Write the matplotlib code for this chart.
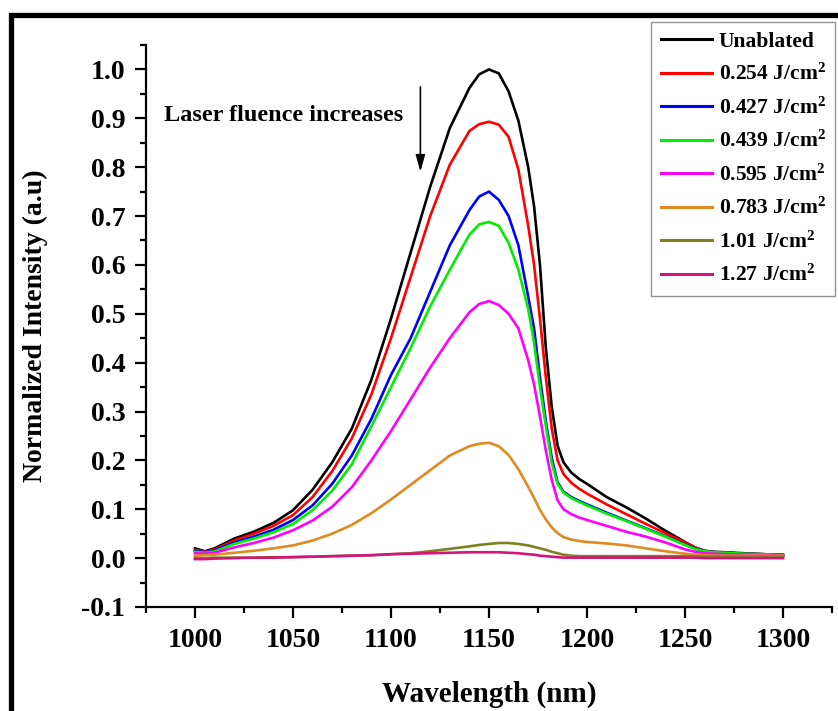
import matplotlib
matplotlib.use("Agg")
import matplotlib.pyplot as plt
from matplotlib.patches import Rectangle
from matplotlib.ticker import MultipleLocator

plt.rcParams['font.family'] = ['Liberation Serif', 'DejaVu Serif']
plt.rcParams['font.weight'] = 'bold'
plt.rcParams['mathtext.fontset'] = 'custom'
plt.rcParams['mathtext.rm'] = 'Liberation Serif:bold'
plt.rcParams['mathtext.bf'] = 'Liberation Serif:bold'
plt.rcParams['mathtext.default'] = 'bf'

wavelength = [1000, 1005, 1010, 1020, 1030, 1040, 1050, 1060, 1070, 1080, 1090,
              1100, 1110, 1120, 1130, 1140, 1145, 1150, 1155, 1160, 1165, 1170,
              1173, 1176, 1179, 1182, 1185, 1188, 1192, 1196, 1200, 1210, 1220,
              1230, 1240, 1250, 1255, 1260, 1265, 1270, 1280, 1290, 1300]

unablated = [0.020, 0.014, 0.020, 0.040, 0.054, 0.072, 0.098, 0.140, 0.196, 0.265, 0.365,
             0.490, 0.625, 0.760, 0.880, 0.962, 0.990, 1.000, 0.992, 0.955, 0.895, 0.800,
             0.720, 0.600, 0.430, 0.310, 0.230, 0.196, 0.175, 0.162, 0.152, 0.125, 0.104,
             0.081, 0.056, 0.033, 0.022, 0.015, 0.013, 0.012, 0.010, 0.008, 0.007]
f0254 = [0.017, 0.013, 0.018, 0.036, 0.050, 0.066, 0.088, 0.125, 0.178, 0.245, 0.335,
         0.450, 0.575, 0.700, 0.805, 0.874, 0.888, 0.893, 0.887, 0.862, 0.795, 0.680,
         0.600, 0.490, 0.370, 0.265, 0.200, 0.172, 0.154, 0.142, 0.132, 0.110, 0.090,
         0.070, 0.051, 0.032, 0.022, 0.015, 0.012, 0.011, 0.009, 0.008, 0.006]
f0427 = [0.015, 0.012, 0.016, 0.032, 0.044, 0.058, 0.078, 0.108, 0.152, 0.210, 0.285,
         0.375, 0.450, 0.545, 0.640, 0.712, 0.740, 0.750, 0.733, 0.700, 0.640, 0.535,
         0.470, 0.370, 0.280, 0.205, 0.155, 0.136, 0.125, 0.117, 0.110, 0.093, 0.077,
         0.061, 0.045, 0.028, 0.020, 0.014, 0.012, 0.011, 0.009, 0.008, 0.006]
f0439 = [0.013, 0.011, 0.014, 0.029, 0.040, 0.053, 0.070, 0.098, 0.138, 0.192, 0.270,
         0.350, 0.430, 0.515, 0.590, 0.662, 0.683, 0.688, 0.680, 0.645, 0.590, 0.510,
         0.440, 0.350, 0.270, 0.195, 0.152, 0.134, 0.123, 0.115, 0.108, 0.091, 0.076,
         0.060, 0.044, 0.027, 0.019, 0.014, 0.012, 0.011, 0.009, 0.008, 0.006]
f0595 = [0.010, 0.009, 0.011, 0.022, 0.031, 0.042, 0.057, 0.077, 0.105, 0.145, 0.200,
         0.260, 0.325, 0.390, 0.450, 0.503, 0.520, 0.526, 0.518, 0.500, 0.470, 0.405,
         0.355, 0.290, 0.220, 0.160, 0.118, 0.100, 0.090, 0.083, 0.078, 0.066, 0.054,
         0.044, 0.032, 0.018, 0.013, 0.010, 0.009, 0.008, 0.007, 0.006, 0.005]
f0783 = [0.005, 0.006, 0.007, 0.011, 0.015, 0.020, 0.026, 0.036, 0.050, 0.068, 0.092,
         0.120, 0.150, 0.180, 0.210, 0.229, 0.234, 0.236, 0.229, 0.211, 0.182, 0.146,
         0.123, 0.099, 0.079, 0.063, 0.051, 0.043, 0.038, 0.035, 0.033, 0.030, 0.026,
         0.020, 0.014, 0.009, 0.007, 0.006, 0.005, 0.005, 0.005, 0.005, 0.005]
f101 = [0.000, 0.000, 0.001, 0.001, 0.001, 0.002, 0.002, 0.003, 0.004, 0.005, 0.006,
        0.008, 0.010, 0.014, 0.019, 0.024, 0.027, 0.029, 0.031, 0.031, 0.029, 0.026,
        0.023, 0.020, 0.017, 0.013, 0.010, 0.007, 0.005, 0.004, 0.004, 0.004, 0.004,
        0.004, 0.004, 0.004, 0.004, 0.003, 0.003, 0.003, 0.003, 0.003, 0.003]
f127 = [-0.002, -0.002, -0.001, 0.000, 0.001, 0.001, 0.002, 0.003, 0.004, 0.005, 0.006,
        0.008, 0.009, 0.010, 0.011, 0.012, 0.012, 0.012, 0.012, 0.011, 0.010, 0.008,
        0.007, 0.005, 0.004, 0.003, 0.002, 0.001, 0.001, 0.001, 0.001, 0.001, 0.001,
        0.001, 0.001, 0.001, 0.001, 0.000, 0.000, 0.000, 0.000, 0.000, 0.000]

series = [unablated, f0254, f0427, f0439, f0595, f0783, f101, f127]
labels = ['Unablated', '0.254 J/cm$^2$', '0.427 J/cm$^2$', '0.439 J/cm$^2$',
          '0.595 J/cm$^2$', '0.783 J/cm$^2$', '1.01 J/cm$^2$', '1.27 J/cm$^2$']
colors = ['#000000', '#ff0000', '#0000ff', '#00ee00', '#ff00ff', '#e08a22', '#808020', '#d4147a']

W, H = 838, 711
fig = plt.figure(figsize=(W / 100, H / 100), dpi=100)
ax = fig.add_axes([146 / W, 1 - 607 / H, (832 - 146) / W, (607 - 45) / H])

for y, lab, c in zip(series, labels, colors):
    ax.plot(wavelength, y, color=c, lw=1.9, label=lab)

ax.set_xlim(975, 1325)
ax.set_ylim(-0.1, 1.05)
ax.xaxis.set_major_locator(MultipleLocator(50))
ax.xaxis.set_minor_locator(MultipleLocator(25))
ax.yaxis.set_major_locator(MultipleLocator(0.1))
ax.yaxis.set_minor_locator(MultipleLocator(0.05))
ax.set_xticks([1000, 1050, 1100, 1150, 1200, 1250, 1300])
ax.yaxis.set_major_formatter(matplotlib.ticker.FuncFormatter(lambda v, p: f"{v:.1f}" if abs(v) > 1e-9 else "0.0"))

for s in ['top', 'right']:
    ax.spines[s].set_visible(False)
for s in ['left', 'bottom']:
    ax.spines[s].set_linewidth(1.6)
ax.tick_params(which='major', direction='out', length=8, width=1.6, labelsize=20, pad=7)
ax.tick_params(which='minor', direction='out', length=4.5, width=1.6)

ax.set_xlabel('Wavelength (nm)', fontsize=21, fontweight='bold', labelpad=20)
ax.set_ylabel('Normalized Intensity (a.u)', fontsize=20, fontweight='bold', labelpad=24)

ax.text(1045, 0.905, 'Laser fluence increases', fontsize=17.5, fontweight='bold',
        ha='center', va='center')
ax.annotate('', xy=(1115, 0.785), xytext=(1115, 0.97),
            arrowprops=dict(arrowstyle='-|>,head_width=0.28,head_length=1.0', color='black', lw=1.2))

leg = ax.legend(loc='upper left', bbox_to_anchor=(651 / W, 1 - 22 / H),
                bbox_transform=fig.transFigure, borderaxespad=0, fontsize=15.5,
                frameon=True, fancybox=False, edgecolor='#777777', handlelength=2.4,
                handletextpad=0.3, labelspacing=0.57, borderpad=0.45)
leg.get_frame().set_linewidth(1.0)
for line in leg.get_lines():
    line.set_linewidth(2.2)

fig.patches.append(Rectangle((10.5 / W, -0.05), 1.1, 1 - 14.5 / H + 0.05,
                             transform=fig.transFigure, fill=False, edgecolor='black',
                             linewidth=3.8, zorder=10))

fig.savefig('out.png', dpi=100)
